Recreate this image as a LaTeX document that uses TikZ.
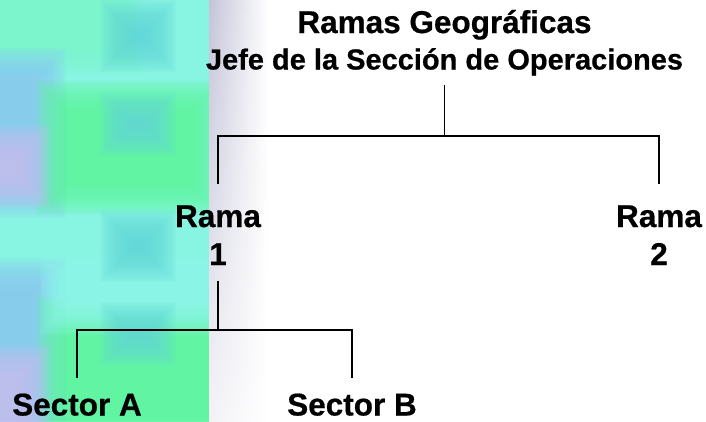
\documentclass[tikz,border=0pt]{standalone}
\usepackage{fontspec}
\setmainfont{Liberation Sans}[BoldFeatures={FakeBold=0.6}]
\usetikzlibrary{shadings}
\begin{document}
\begin{tikzpicture}[x=1pt,y=-1pt,
  conn/.style={line width=1.7pt, black},
  lbl/.style={font=\bfseries\fontsize{31.5}{36}\selectfont, inner sep=0pt, anchor=base},
  ttlA/.style={font=\bfseries\fontsize{31.5}{36}\selectfont, inner sep=0pt, anchor=base},
  ttlB/.style={font=\bfseries\fontsize{29}{36}\selectfont, inner sep=0pt, anchor=base}]
\definecolor{bgaqua}{HTML}{88F4E2}
\definecolor{bggreen}{HTML}{5EF59E}
\definecolor{bgblue}{HTML}{8CCAF4}
\definecolor{bglav}{HTML}{C8BEF2}
\definecolor{bgcyan}{HTML}{62D8D8}
\definecolor{bglgreen}{HTML}{7CF4CC}
\definecolor{bgbright}{HTML}{92F9EE}
\definecolor{stripc}{HTML}{C4C4D9}
\definecolor{stripb}{HTML}{F3F3F7}
\newcommand\softblock[5]{%
  \foreach \i in {0,...,15}{%
    \fill[#1, opacity=0.12] ({#2+\i*2.2},{#3+\i*2.2}) rectangle ({#4-\i*2.2},{#5-\i*2.2});}}
\useasboundingbox (0,0) rectangle (706,421);
\fill[white] (0,0) rectangle (706,421);
% left decorative strip
\begin{scope}
\clip (0,0) rectangle (209,421);
\fill[bgaqua] (0,0) rectangle (209,421);
\softblock{bglgreen}{-40}{-50}{145}{75}
\softblock{bgblue}{-40}{48}{66}{218}
\softblock{bgblue}{-40}{258}{66}{450}
\softblock{bggreen}{36}{80}{222}{215}
\softblock{bggreen}{36}{295}{250}{460}
\softblock{bgbright}{40}{255}{250}{335}
\softblock{bglav}{-40}{125}{50}{208}
\softblock{bglav}{-40}{345}{50}{460}
\softblock{bgcyan}{100}{0}{176}{72}
\softblock{bgcyan}{100}{92}{176}{156}
\softblock{bgcyan}{100}{210}{176}{282}
\softblock{bgcyan}{100}{302}{176}{366}
\end{scope}
% soft grey strip
\shade[upper left=stripc, lower left=stripb, upper right=white, lower right=white]
  (209,0) rectangle (268,421);
% texts
\node[ttlA] (title1) at (444.5,33) {Ramas Geográficas};
\node[ttlB] (title2) at (444.5,69.5) {Jefe de la Sección de Operaciones};
\node[lbl] (rama1a) at (218,227) {Rama};
\node[lbl] (rama1b) at (218,265) {1};
\node[lbl] (rama2a) at (659,227) {Rama};
\node[lbl] (rama2b) at (659,265) {2};
\node[lbl] (secA) at (77,415.5) {Sector A};
\node[lbl] (secB) at (352,415.5) {Sector B};
% connectors
\coordinate (hub) at (444.5,136);
\coordinate (hub2) at (218,330);
\draw[conn] ([yshift=-9pt]title2.south) -- (hub);
\draw[conn] ([yshift=21pt]rama1a.north) |- (hub) -| ([yshift=21pt]rama2a.north);
\draw[conn] ([yshift=-16pt]rama1b.south) -- (hub2);
\draw[conn] ([yshift=15.5pt]secA.north) |- (hub2) -| ([yshift=15.5pt]secB.north);
\end{tikzpicture}
\end{document}
